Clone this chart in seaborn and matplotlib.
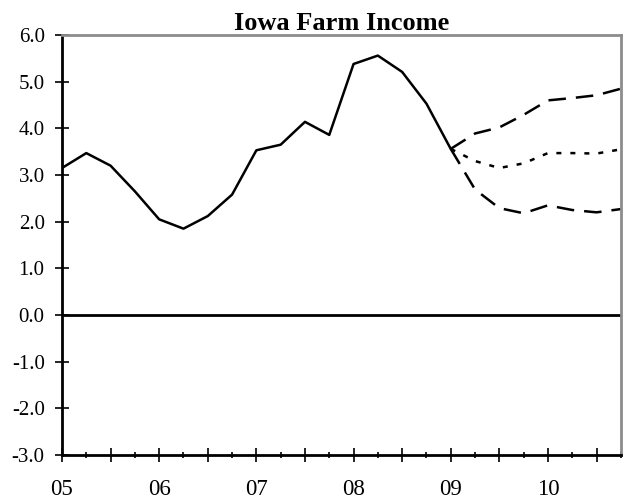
import numpy as np
import pandas as pd
import matplotlib
matplotlib.use("Agg")
import matplotlib.pyplot as plt
import seaborn as sns
from matplotlib.ticker import FixedLocator, FixedFormatter

# Quarterly data, 2005 Q1 .. 2010 Q4 (quarter index 0..23)
hist_q = list(range(0, 17))
hist_vals = [3.15, 3.47, 3.20, 2.65, 2.05, 1.85, 2.12, 2.58, 3.53, 3.65,
             4.14, 3.86, 5.38, 5.56, 5.21, 4.53, 3.56]

fc_q = list(range(16, 24))
fc_high = [3.56, 3.89, 4.02, 4.29, 4.60, 4.65, 4.71, 4.85]
fc_mid = [3.56, 3.30, 3.15, 3.25, 3.47, 3.47, 3.46, 3.55]
fc_low = [3.56, 2.69, 2.29, 2.18, 2.35, 2.25, 2.20, 2.27]

year_labels = ["05", "06", "07", "08", "09", "10"]
y_ticks = [6.0, 5.0, 4.0, 3.0, 2.0, 1.0, 0.0, -1.0, -2.0, -3.0]

sns.set_style("white")
plt.rcParams["font.family"] = ["Liberation Serif", "DejaVu Serif"]
plt.rcParams["text.color"] = "black"
plt.rcParams["xtick.color"] = "black"
plt.rcParams["ytick.color"] = "black"
plt.rcParams["xtick.bottom"] = True
plt.rcParams["ytick.left"] = True

hist_df = pd.DataFrame({"q": hist_q, "v": hist_vals})
fc_df = pd.DataFrame({"q": fc_q, "high": fc_high, "mid": fc_mid, "low": fc_low})

fig = plt.figure(figsize=(6.23, 5.01), dpi=100)
ax = fig.add_axes([0.0995, 0.092, 0.897, 0.838])

ax.axhline(0, color="black", lw=2.0, zorder=1)

lw = 1.8
sns.lineplot(data=hist_df, x="q", y="v", ax=ax, color="black", lw=lw)
sns.lineplot(data=fc_df, x="q", y="high", ax=ax, color="black", lw=lw).lines[-1].set_dashes([7, 4])
sns.lineplot(data=fc_df, x="q", y="low", ax=ax, color="black", lw=lw).lines[-1].set_dashes([7, 4])
sns.lineplot(data=fc_df, x="q", y="mid", ax=ax, color="black", lw=lw).lines[-1].set_dashes([2.0, 3.6])

ax.set_xlim(0, 23)
ax.set_ylim(-3, 6)
ax.set_xlabel("")
ax.set_ylabel("")

ax.set_yticks(y_ticks)
ax.set_yticklabels([f"{t:.1f}" for t in y_ticks])

major = list(range(0, 23, 2))
major_lbl = [year_labels[i // 4] if i % 4 == 0 else "" for i in major]
ax.xaxis.set_major_locator(FixedLocator(major))
ax.xaxis.set_major_formatter(FixedFormatter(major_lbl))
ax.xaxis.set_minor_locator(FixedLocator(list(range(1, 24, 2))))

ax.tick_params(axis="x", which="major", direction="inout", length=10, width=1.2,
               labelsize=16.5, pad=12, bottom=True)
ax.tick_params(axis="x", which="minor", direction="inout", length=4, width=1.2,
               bottom=True)
ax.tick_params(axis="y", which="major", direction="inout", length=10, width=1.2,
               labelsize=15, pad=7.5, left=True)

for s in ["left", "bottom"]:
    ax.spines[s].set_color("black")
    ax.spines[s].set_linewidth(2.0)
for s in ["top", "right"]:
    ax.spines[s].set_color("#8c8c8c")
    ax.spines[s].set_linewidth(2.0)

ax.set_title("Iowa Farm Income", fontsize=19, fontweight="bold", pad=4)

fig.savefig("out.png", dpi=100)
